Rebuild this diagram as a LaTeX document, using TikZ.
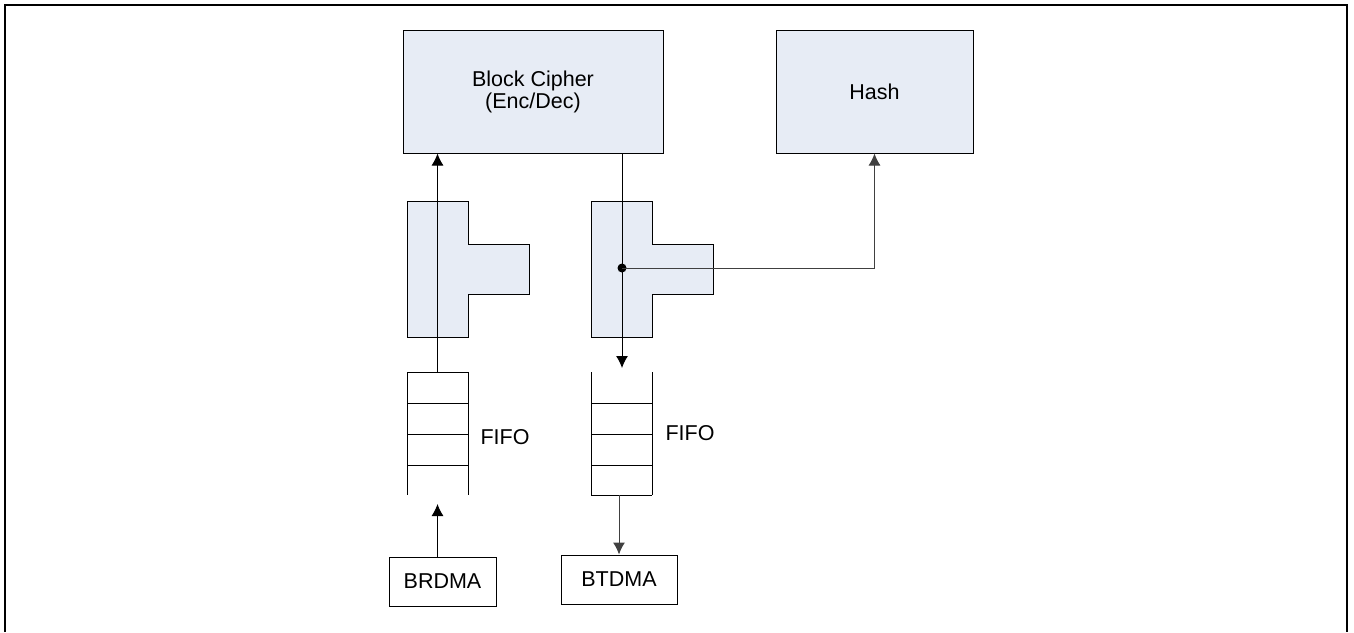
\documentclass[tikz,border=0pt]{standalone}
\usepackage{fontspec}
\setmainfont{Liberation Sans}
\usetikzlibrary{arrows.meta}
\definecolor{boxfill}{RGB}{231,236,245}
\tikzset{
  block/.style={draw, fill=boxfill, align=center, inner sep=0pt},
  dmabox/.style={draw, inner sep=0pt},
  tee/.style={draw, fill=boxfill},
  flow/.style={-{Latex[length=6pt,width=6pt]}},
}
\begin{document}
\begin{tikzpicture}[x=0.5pt,y=-0.5pt,line width=0.5pt,font=\fontsize{10.75}{9.5}\selectfont]
  \useasboundingbox (0,0) rectangle (1354,632);
  \draw[line width=1pt] (5,632) -- (5,5) -- (1347,5) -- (1347,632);
  % engines
  \node[block, minimum width=130pt, minimum height=61.5pt] (cipher) at (533,91.5) {Block Cipher\\(Enc/Dec)};
  \node[block, minimum width=98.5pt, minimum height=61.5pt] (hash) at (874.5,91.5) {Hash};
  % T-shaped splitters
  \foreach \x in {407,591} {
    \draw[tee] (\x,201) -- ++(61,0) -- ++(0,43) -- ++(61,0) -- ++(0,50)
      -- ++(-61,0) -- ++(0,43) -- ++(-61,0) -- cycle;
  }
  % FIFOs
  \foreach \x in {407,591} {
    \draw (\x,372) -- (\x,495) (\x+61,372) -- (\x+61,495);
    \foreach \y in {403,434,465}
      \draw (\x,\y) -- (\x+61,\y);
  }
  \draw (407,372) -- (468,372);
  \draw (591,495) -- (652,495);
  \coordinate (fifoLtop) at (437.5,372);
  \coordinate (fifoLbot) at (437.5,495);
  \coordinate (fifoRtop) at (622,372);
  \coordinate (fifoRbot) at (622,495);
  \node[right, inner sep=0pt] (fifoLlab) at (480,437) {FIFO};
  \node[right, inner sep=0pt] (fifoRlab) at (665,433) {FIFO};
  % DMA
  \node[dmabox, minimum width=53.5pt, minimum height=24.5pt] (brdma) at (442.5,581.5) {BRDMA};
  \node[dmabox, minimum width=58pt, minimum height=24.5pt] (btdma) at (619,579.5) {BTDMA};
  % data flow
  \draw[flow] (fifoLtop) -- (fifoLtop |- cipher.south);
  \draw[flow] (cipher.south -| fifoRtop) -- ([yshift=2pt]fifoRtop);
  \coordinate (split) at (622,268);
  \fill (split) circle (2.25pt);
  \draw[flow, black!75] (split) -| (hash.south);
  \draw[flow] (brdma.north -| fifoLbot) -- ([yshift=-4.5pt]fifoLbot);
  \draw[flow, black!75] (fifoRbot -| btdma.north) -- (btdma.north);
\end{tikzpicture}
\end{document}
